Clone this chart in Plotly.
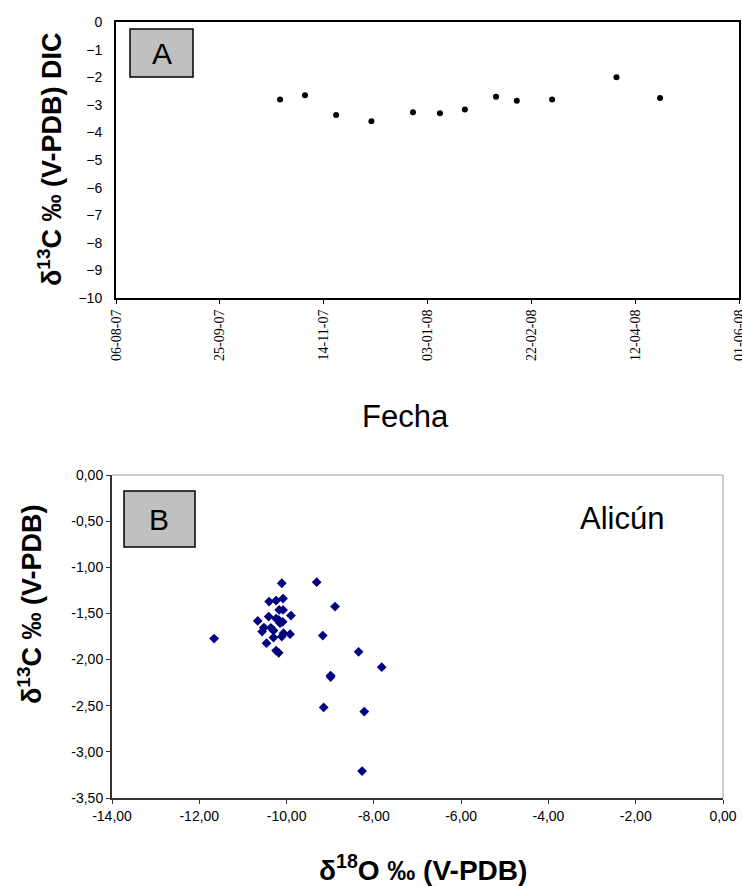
import plotly.graph_objects as go

# ---------------- Data ----------------
# Panel A: δ13C DIC over time
fechas = ["2007-10-24", "2007-11-05", "2007-11-20", "2007-12-07", "2007-12-27",
          "2008-01-09", "2008-01-21", "2008-02-05", "2008-02-15", "2008-03-03",
          "2008-04-03", "2008-04-24"]
d13c_dic = [-2.81, -2.65, -3.37, -3.60, -3.27, -3.31, -3.17, -2.71, -2.85, -2.81,
            -2.00, -2.75]
date_tickvals = ["2007-08-06", "2007-09-25", "2007-11-14", "2008-01-03",
                 "2008-02-22", "2008-04-12", "2008-06-01"]
date_ticktext = ["06-08-07", "25-09-07", "14-11-07", "03-01-08",
                 "22-02-08", "12-04-08", "01-06-08"]
a_yticks = [0, -1, -2, -3, -4, -5, -6, -7, -8, -9, -10]

# Panel B: δ18O vs δ13C (Alicún)
d18o = [-11.66, -10.11, -9.31, -8.89, -10.40, -10.24, -10.08, -10.17, -10.08,
        -10.66, -10.41, -10.24, -10.18, -10.09, -10.15, -9.90, -10.52, -10.56,
        -10.36, -10.30, -10.30, -10.07, -10.11, -9.92, -10.46, -10.24, -10.18,
        -9.17, -8.35, -7.82, -8.99, -8.99, -9.15, -8.22, -8.27]
d13c_b = [-1.772, -1.173, -1.162, -1.426, -1.371, -1.361, -1.339, -1.462, -1.462,
          -1.581, -1.534, -1.556, -1.570, -1.591, -1.606, -1.523, -1.653, -1.696,
          -1.656, -1.685, -1.761, -1.714, -1.750, -1.725, -1.822, -1.902, -1.927,
          -1.740, -1.916, -2.082, -2.173, -2.190, -2.519, -2.563, -3.208]
b_xticks = [-14, -12, -10, -8, -6, -4, -2, 0]
b_xticktext = ["-14,00", "-12,00", "-10,00", "-8,00", "-6,00", "-4,00", "-2,00", "0,00"]
b_yticks = [0, -0.5, -1, -1.5, -2, -2.5, -3, -3.5]
b_yticktext = ["0,00", "-0,50", "-1,00", "-1,50", "-2,00", "-2,50", "-3,00", "-3,50"]

# ---------------- Layout helpers ----------------
W, H = 742, 886
def px(x):
    return x / W
def py(y):
    return 1 - y / H

SANS = "Liberation Sans, Arial, sans-serif"
SERIF = "Liberation Serif, Times New Roman, serif"

fig = go.Figure()

fig.add_trace(go.Scatter(
    x=fechas, y=d13c_dic, mode="markers",
    marker=dict(symbol="circle", size=6, color="black"),
    xaxis="x", yaxis="y", showlegend=False, hoverinfo="x+y"))

fig.add_trace(go.Scatter(
    x=d18o, y=d13c_b, mode="markers",
    marker=dict(symbol="diamond", size=7.5, color="#000080"),
    xaxis="x2", yaxis="y2", showlegend=False))

fig.update_layout(
    width=W, height=H,
    margin=dict(l=0, r=0, t=0, b=0, autoexpand=False),
    paper_bgcolor="white", plot_bgcolor="white",
    font=dict(family=SANS, color="black"),
    xaxis=dict(
        domain=[px(116), px(739)], anchor="y", type="date", automargin=False,
        range=["2007-08-06", "2008-06-01"],
        tickmode="array", tickvals=date_tickvals, ticktext=date_ticktext,
        tickangle=-90, tickfont=dict(family=SERIF, size=14, color="black"),
        ticklabeloverflow="allow",
        ticks="outside", ticklen=4, tickcolor="black", tickwidth=1,
        showline=True, linecolor="black", linewidth=2, mirror=True,
        showgrid=False, zeroline=False),
    yaxis=dict(
        domain=[py(298), py(22)], anchor="x", automargin=False,
        range=[-10, 0], tickmode="array", tickvals=a_yticks,
        tickfont=dict(family=SANS, size=14, color="black"),
        ticklabeloverflow="allow",
        ticks="outside", ticklen=9, tickcolor="rgba(0,0,0,0)",
        showline=True, linecolor="black", linewidth=2, mirror=True,
        showgrid=False, zeroline=False),
    xaxis2=dict(
        domain=[px(112), px(723)], anchor="y2", automargin=False,
        range=[-14, 0], tickmode="array", tickvals=b_xticks, ticktext=b_xticktext,
        tickfont=dict(family=SANS, size=14, color="black"),
        ticklabeloverflow="allow",
        ticks="outside", ticklen=4, tickcolor="#333333", tickwidth=1,
        showline=True, linecolor="#333333", linewidth=1.5,
        showgrid=False, zeroline=False),
    yaxis2=dict(
        domain=[py(798), py(475)], anchor="x2", automargin=False,
        range=[-3.5, 0], tickmode="array", tickvals=b_yticks, ticktext=b_yticktext,
        tickfont=dict(family=SANS, size=14, color="black"),
        ticklabeloverflow="allow",
        ticks="outside", ticklen=4, tickcolor="#333333", tickwidth=1,
        showline=True, linecolor="#333333", linewidth=2,
        showgrid=False, zeroline=False),
)

shapes = [
    # Box A
    dict(type="rect", xref="paper", yref="paper",
         x0=px(130), x1=px(193), y0=py(77), y1=py(29),
         fillcolor="#c0c0c0", line=dict(color="black", width=1.5)),
    # Box B
    dict(type="rect", xref="paper", yref="paper",
         x0=px(124), x1=px(195), y0=py(547), y1=py(491),
         fillcolor="#c0c0c0", line=dict(color="black", width=1.5)),
    # Panel B top & right border (gray)
    dict(type="line", xref="x2 domain", yref="y2 domain", x0=0, x1=1, y0=1, y1=1,
         line=dict(color="#9a9a9a", width=1)),
    dict(type="line", xref="x2 domain", yref="y2 domain", x0=1, x1=1, y0=0, y1=1,
         line=dict(color="#9a9a9a", width=1)),
]

annotations = [
    dict(text="A", x=px(161.5), y=py(53), xref="paper", yref="paper",
         showarrow=False, font=dict(family=SANS, size=30, color="black"),
         xanchor="center", yanchor="middle"),
    dict(text="B", x=px(159), y=py(519), xref="paper", yref="paper",
         showarrow=False, font=dict(family=SANS, size=30, color="black"),
         xanchor="center", yanchor="middle"),
    dict(text="Alicún", x=px(622), y=py(518), xref="paper", yref="paper",
         showarrow=False, font=dict(family=SANS, size=31, color="black"),
         xanchor="center", yanchor="middle"),
    dict(text="<b>δ<sup>13</sup>C ‰ (V-PDB) DIC</b>", x=px(50), y=py(160),
         xref="paper", yref="paper", showarrow=False, textangle=-90,
         font=dict(family=SANS, size=27, color="black"),
         xanchor="center", yanchor="middle"),
    dict(text="Fecha", x=px(405), y=py(416), xref="paper", yref="paper",
         showarrow=False, font=dict(family=SANS, size=31, color="black"),
         xanchor="center", yanchor="middle"),
    dict(text="<b>δ<sup>13</sup>C ‰ (V-PDB)</b>", x=px(30), y=py(605),
         xref="paper", yref="paper", showarrow=False, textangle=-90,
         font=dict(family=SANS, size=27, color="black"),
         xanchor="center", yanchor="middle"),
    dict(text="<b>δ<sup>18</sup>O ‰ (V-PDB)</b>", x=px(423), y=py(868),
         xref="paper", yref="paper", showarrow=False,
         font=dict(family=SANS, size=28, color="black"),
         xanchor="center", yanchor="middle"),
]

fig.update_layout(shapes=shapes, annotations=annotations)

fig.write_html("out.html",
               config={"displayModeBar": False},
               post_script="document.body.style.margin='0';"
                           "document.documentElement.style.overflow='hidden';")
